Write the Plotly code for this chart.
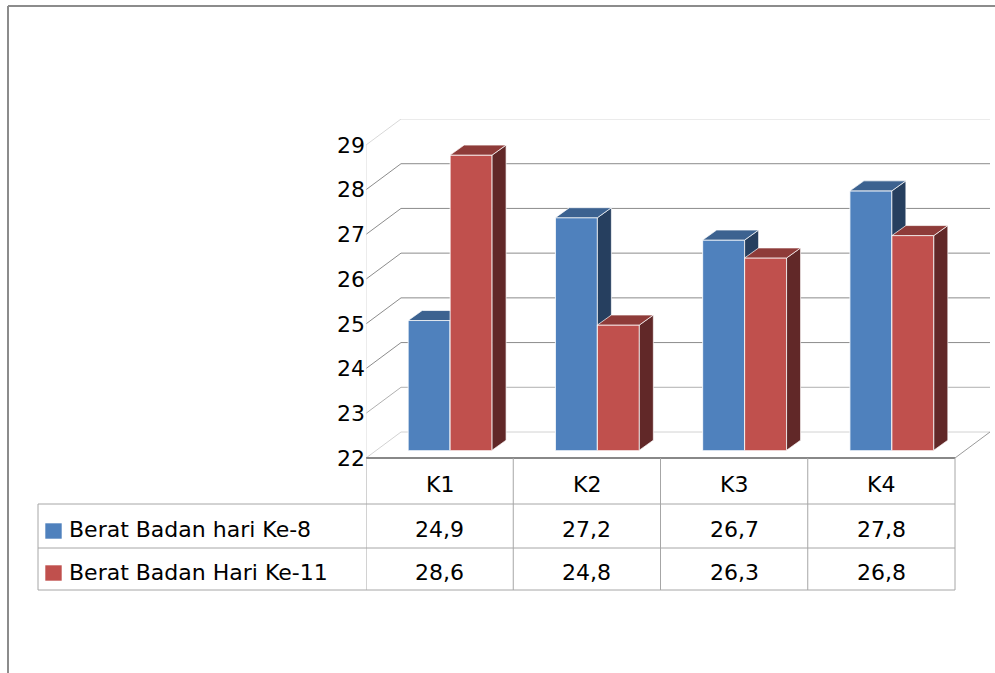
import plotly.graph_objects as go

# ---------------- data ----------------
categories = ["K1", "K2", "K3", "K4"]
series_names = ["Berat Badan hari Ke-8", "Berat Badan Hari Ke-11"]
berat_hari_8 = [24.9, 27.2, 26.7, 27.8]
berat_hari_11 = [28.6, 24.8, 26.3, 26.8]
y_ticks = [22, 23, 24, 25, 26, 27, 28, 29]

# ---------------- geometry / style ----------------
W, H = 995, 673
FONT = "DejaVu Sans"
FS = 22
FRONT_X0, FRONT_X1 = 366, 955     # front plane, category span (px)
RIGHT = 990                       # right edge of back wall (px)
FRONT_Y0 = 458                    # y = min tick on front plane (px)
TOP = 119                         # top of back wall (px)
DEPTH_DX, DEPTH_DY = 35, 26       # wall depth (px)
BAR_FRAC = 0.30                   # bar plane position within depth
BAR_DX, BAR_DY = 14, 10           # bar depth (px)
BAR_W = 0.285                     # bar width (category units)

BLUE = ["#4F81BD", "#3C6290", "#263F5F"]   # front, top, side
RED = ["#C0504D", "#8E3B39", "#612828"]

n = len(categories)
ux = (FRONT_X1 - FRONT_X0) / n
y_min, y_max = y_ticks[0], y_ticks[-1]
ky = (FRONT_Y0 - (TOP + DEPTH_DY)) / (y_max - y_min)
DX, DY = DEPTH_DX / ux, DEPTH_DY / ky
bdx, bdy = BAR_DX / ux, BAR_DY / ky
idx = list(range(n))


def px(x):
    return x / W


def py(y):
    return 1 - y / H


def plane(ox, oy):
    xd = [px(ox), px(RIGHT)]
    xr = [-0.5, -0.5 + (RIGHT - ox) / ux]
    yd = [py(oy), py(TOP)]
    yr = [y_min, y_min + (oy - TOP) / ky]
    return xd, xr, yd, yr


fig = go.Figure()

# ---- walls / gridlines (front-plane coordinates) ----
grid_cols = {22: "#D2D2D2", 23: "#B0B0B0", 29: "#D8D8D8"}
for t in y_ticks:
    c = grid_cols.get(t, "#8C8C8C")
    fig.add_trace(go.Scatter(
        x=[-0.5, -0.5 + DX, n - 0.5 + DX], y=[t, t + DY, t + DY],
        mode="lines", line=dict(color=c, width=1), hoverinfo="skip",
        showlegend=False, xaxis="x", yaxis="y"))
fig.add_trace(go.Scatter(
    x=[n - 0.5, n - 0.5 + DX], y=[y_min, y_min + DY], mode="lines",
    line=dict(color="#9A9A9A", width=1), hoverinfo="skip", showlegend=False,
    xaxis="x", yaxis="y"))
fig.add_trace(go.Scatter(
    x=[-0.5, -0.5], y=[y_min, y_max], mode="lines",
    line=dict(color="#DADADA", width=1), hoverinfo="skip", showlegend=False,
    xaxis="x", yaxis="y"))


# ---- 3D bars ----
def add_series(vals, name, cols, off, xa, ya):
    fig.add_trace(go.Bar(
        x=idx, y=vals, width=BAR_W, offset=off, name=name,
        marker=dict(color=cols[0], line=dict(color="rgba(255,255,255,0.85)", width=1)),
        showlegend=False, xaxis=xa, yaxis=ya))
    tx, ty, sx, sy = [], [], [], []
    for i, v in zip(idx, vals):
        xl = i + off
        xr = xl + BAR_W
        tx += [xl, xr, xr + bdx, xl + bdx, xl, None]
        ty += [v, v, v + bdy, v + bdy, v, None]
        sx += [xr, xr + bdx, xr + bdx, xr, xr, None]
        sy += [y_min, y_min + bdy, v + bdy, v, y_min, None]
    for X, Y, c in ((sx, sy, cols[2]), (tx, ty, cols[1])):
        fig.add_trace(go.Scatter(
            x=X, y=Y, mode="lines", fill="toself", fillcolor=c,
            line=dict(color="rgba(255,255,255,0.7)", width=1),
            hoverinfo="skip", showlegend=False, xaxis=xa, yaxis=ya))


add_series(berat_hari_8, series_names[0], BLUE, -BAR_W, "x2", "y2")
add_series(berat_hari_11, series_names[1], RED, 0.0, "x3", "y3")

mxd, mxr, myd, myr = plane(FRONT_X0, FRONT_Y0)
bxd, bxr, byd, byr = plane(FRONT_X0 + BAR_FRAC * DEPTH_DX, FRONT_Y0 - BAR_FRAC * DEPTH_DY)

hidden = dict(visible=False, fixedrange=True)
fig.update_layout(
    width=W, height=H, margin=dict(l=0, r=0, t=0, b=0),
    paper_bgcolor="white", plot_bgcolor="rgba(0,0,0,0)",
    font=dict(family=FONT, size=FS, color="black"),
    barmode="overlay",
    xaxis=dict(domain=mxd, range=mxr, anchor="y", **hidden),
    yaxis=dict(domain=myd, range=myr, anchor="x", tickvals=y_ticks,
               ticks="", showgrid=False, zeroline=False, showline=False,
               automargin=False, fixedrange=True,
               tickfont=dict(family=FONT, size=FS, color="black")),
    xaxis2=dict(domain=bxd, range=bxr, anchor="y2", **hidden),
    yaxis2=dict(domain=byd, range=byr, anchor="x2", **hidden),
    xaxis3=dict(domain=bxd, range=bxr, anchor="y3", **hidden),
    yaxis3=dict(domain=byd, range=byr, anchor="x3", **hidden),
)

# ---- data table ----
ROW_TOP, ROW1, ROW2, ROW_END = 458, 504, 548, 590
TABLE_LEFT = 38
LINE = dict(color="#A6A6A6", width=1)
shapes = []
shapes.append(dict(type="line", xref="x", yref="paper", x0=-0.5, x1=n - 0.5,
                   y0=py(ROW_TOP), y1=py(ROW_TOP), line=dict(color="#888888", width=2)))
for yy in (ROW1, ROW2, ROW_END):
    shapes.append(dict(type="line", xref="paper", yref="paper", x0=px(TABLE_LEFT),
                       x1=px(FRONT_X1), y0=py(yy), y1=py(yy), line=LINE))
for b in range(n + 1):
    shapes.append(dict(type="line", xref="x", yref="paper", x0=b - 0.5, x1=b - 0.5,
                       y0=py(ROW_TOP), y1=py(ROW_END), line=LINE))
shapes.append(dict(type="line", xref="paper", yref="paper", x0=px(TABLE_LEFT),
                   x1=px(TABLE_LEFT), y0=py(ROW1), y1=py(ROW_END), line=LINE))
# legend keys
for (ya, yb), col in (((523, 539), BLUE[0]), ((565, 581), RED[0])):
    shapes.append(dict(type="rect", xref="paper", yref="paper", x0=px(45), x1=px(62),
                       y0=py(yb), y1=py(ya), fillcolor=col,
                       line=dict(color="rgba(255,255,255,0.6)", width=1)))
# outer chart border
shapes.append(dict(type="line", xref="paper", yref="paper", x0=px(8), x1=px(8),
                   y0=py(6), y1=0, line=dict(color="#8C8C8C", width=2)))
shapes.append(dict(type="line", xref="paper", yref="paper", x0=px(8), x1=1,
                   y0=py(6), y1=py(6), line=dict(color="#8C8C8C", width=2)))

ann = []
for i, c in zip(idx, categories):
    ann.append(dict(x=i, xref="x", y=py(484), yref="paper", text=c, showarrow=False,
                    xanchor="center", yanchor="middle", font=dict(size=FS)))
for vals, yc in ((berat_hari_8, 529), (berat_hari_11, 572)):
    for i, v in zip(idx, vals):
        ann.append(dict(x=i, xref="x", y=py(yc), yref="paper",
                        text=f"{v:.1f}".replace(".", ","), showarrow=False,
                        xanchor="center", yanchor="middle", font=dict(size=FS)))
for nm, yc in zip(series_names, (529, 572)):
    ann.append(dict(x=px(67), xref="paper", y=py(yc), yref="paper", text=nm,
                    showarrow=False, xanchor="left", yanchor="middle",
                    font=dict(size=FS)))

fig.update_layout(shapes=shapes, annotations=ann)
fig.write_html("out.html")
